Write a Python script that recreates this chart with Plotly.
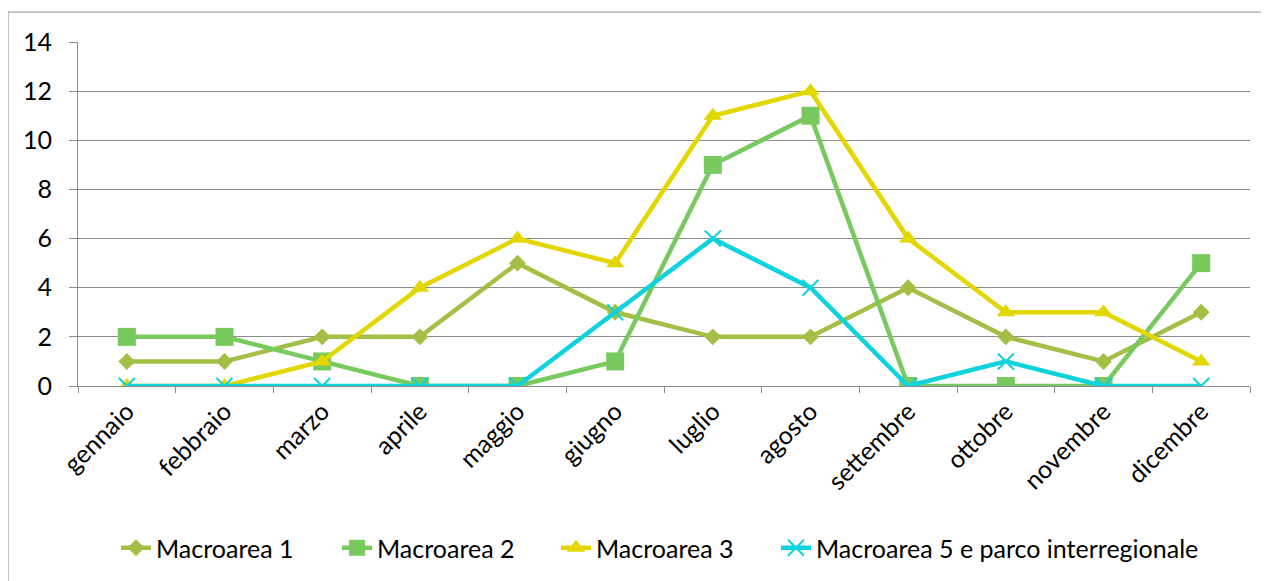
import plotly.graph_objects as go

months = ["gennaio", "febbraio", "marzo", "aprile", "maggio", "giugno",
          "luglio", "agosto", "settembre", "ottobre", "novembre", "dicembre"]
macro1 = [1, 1, 2, 2, 5, 3, 2, 2, 4, 2, 1, 3]
macro2 = [2, 2, 1, 0, 0, 1, 9, 11, 0, 0, 0, 5]
macro3 = [0, 0, 1, 4, 6, 5, 11, 12, 6, 3, 3, 1]
macro5 = [0, 0, 0, 0, 0, 3, 6, 4, 0, 1, 0, 0]
y_ticks = [0, 2, 4, 6, 8, 10, 12, 14]

series = [
    ("Macroarea 1", macro1, "#A3BF45", "diamond", 13),
    ("Macroarea 2", macro2, "#78C95E", "square", 18),
    ("Macroarea 3", macro3, "#E3D700", "triangle-up", 16),
    ("Macroarea 5 e parco interregionale", macro5, "#0ED2DC", "x-thin", 16),
]
legend_text_x = [156, 377, 596, 816]  # screen x where each legend label starts

# page body has an 8px margin; figure coordinates are screen - 8
OFF = 8
W, H = 1269 - OFF, 581 - OFF
L, T = 78 - OFF, 42 - OFF
R = W - (1250 - OFF)
B = H - (387 - OFF)
pw, ph = W - L - R, H - T - B

def px(x):
    return (x - OFF - L) / pw

def py(y):
    return (H - B - (y - OFF)) / ph

FS = 25
fig = go.Figure()
legends = {}
for i, (name, vals, col, sym, sz) in enumerate(series):
    marker = dict(symbol=sym, size=sz, color=col)
    if sym == "x-thin":
        marker["line"] = dict(color=col, width=2)
    lid = "legend" if i == 0 else f"legend{i + 1}"
    fig.add_trace(go.Scatter(x=months, y=vals, name=name, mode="lines+markers",
                             line=dict(color=col, width=4.5), marker=marker,
                             legend=lid, showlegend=True))
    legends[lid] = dict(orientation="h", x=px(legend_text_x[i] - 40), xanchor="left",
                        y=py(548), yanchor="middle", font=dict(size=FS),
                        bgcolor="rgba(0,0,0,0)", visible=True)

fig.add_shape(type="rect", xref="paper", yref="paper",
              x0=px(8), x1=px(1275), y0=py(590), y1=py(12),
              line=dict(color="#8C8C8C", width=1), layer="below")

fig.update_layout(
    width=W, height=H,
    margin=dict(l=L, r=R, t=T, b=B),
    showlegend=True,
    paper_bgcolor="white", plot_bgcolor="white",
    font=dict(family="Lato, Carlito, sans-serif", size=FS, color="black"),
    xaxis=dict(type="category", tickangle=-45, ticks="outside", tickson="boundaries",
               ticklen=6, tickcolor="#8C8C8C", showline=True, linecolor="#8C8C8C",
               linewidth=1, showgrid=False, range=[-0.5, 11.5]),
    yaxis=dict(range=[0, 14], tickvals=y_ticks, ticks="outside", ticklen=8,
               tickcolor="#8C8C8C", showgrid=True, gridcolor="#8C8C8C", gridwidth=1,
               showline=True, linecolor="#8C8C8C", linewidth=1, zeroline=False,
               ticklabelstandoff=12),
    **legends,
)

fig.write_html("out.html")
